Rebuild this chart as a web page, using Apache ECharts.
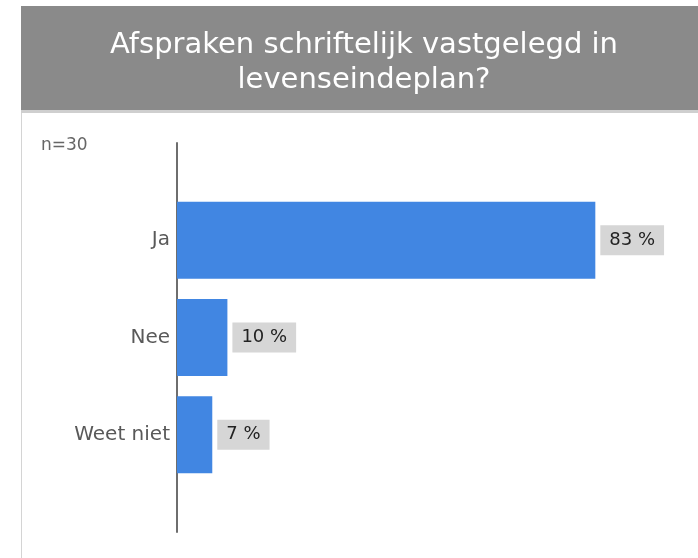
<!DOCTYPE html>
<html>
<head>
<meta charset="utf-8">
<script src="https://cdn.jsdelivr.net/npm/echarts@6/dist/echarts.min.js"></script>
<style>
  html, body { margin: 0; padding: 0; background: #ffffff; }
  #chart { width: 698px; height: 558px; }
</style>
</head>
<body>
<div id="chart"></div>
<script>
// Answer categories and their shares (percent)
const categories = ['Ja', 'Nee', 'Weet niet'];
const values = [83, 10, 7];
const sampleNote = 'n=30';
const titleText = 'Afspraken schriftelijk vastgelegd in\nlevenseindeplan?';

// Pad the category axis with blank slots so the axis line runs past the bars
const axisCats = [''].concat(categories, ['']);
const axisVals = [null].concat(values, [null]);

const FONT = 'DejaVu Sans';

const chart = echarts.init(document.getElementById('chart'), null, { renderer: 'canvas' });

chart.setOption({
  backgroundColor: '#ffffff',
  animation: false,
  graphic: [
    { type: 'rect', shape: { x: 21, y: 6, width: 677, height: 104 }, style: { fill: '#8a8a8a' }, z: -10 },
    { type: 'rect', shape: { x: 21, y: 110, width: 677, height: 3 }, style: { fill: '#cfcfcf' }, z: -10 },
    { type: 'rect', shape: { x: 21, y: 113, width: 1, height: 445 }, style: { fill: '#d4d4d4' }, z: -10 }
  ],
  title: [
    {
      text: titleText,
      left: 359,
      top: 23,
      textAlign: 'center',
      textStyle: {
        color: '#ffffff',
        fontFamily: FONT,
        fontWeight: 'normal',
        fontSize: 29,
        lineHeight: 35
      }
    },
    {
      text: sampleNote,
      left: 36,
      top: 132,
      textStyle: {
        color: '#666666',
        fontFamily: FONT,
        fontWeight: 'normal',
        fontSize: 17
      }
    }
  ],
  grid: { left: 177, right: 17, top: 143, bottom: 26, containLabel: false },
  xAxis: {
    type: 'value',
    min: 0,
    max: 100,
    show: false
  },
  yAxis: {
    type: 'category',
    data: axisCats,
    inverse: true,
    boundaryGap: false,
    axisLine: { show: true, lineStyle: { color: '#6e6e6e', width: 2 } },
    axisTick: { show: false },
    splitLine: { show: false },
    axisLabel: {
      color: '#595959',
      fontFamily: FONT,
      fontSize: 20,
      margin: 7
    }
  },
  series: [{
    type: 'bar',
    data: axisVals,
    barWidth: 77,
    itemStyle: { color: '#4186e2' },
    label: {
      show: true,
      position: 'right',
      distance: 5,
      formatter: function (p) { return p.value + ' %'; },
      color: '#222222',
      fontFamily: FONT,
      fontSize: 18,
      backgroundColor: '#d6d6d6',
      padding: [6, 9, 6, 9]
    }
  }]
});
</script>
</body>
</html>
